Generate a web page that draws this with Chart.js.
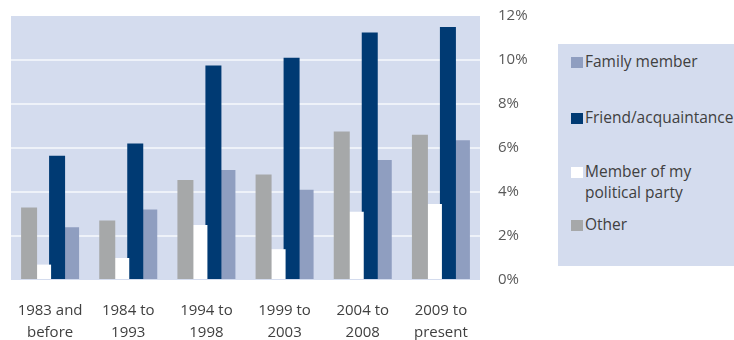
<!DOCTYPE html>
<html>
<head>
<meta charset="utf-8">
<script src="https://cdn.jsdelivr.net/npm/chart.js@4/dist/chart.umd.min.js"></script>
<style>
  html, body { margin: 0; padding: 0; background: #ffffff; overflow: hidden; }
  #wrap { position: relative; width: 734px; height: 340px; overflow: hidden; }
  #c { position: absolute; left: 0; top: 0; }
  #legend { position: absolute; left: 558px; top: 44px; width: 190px; height: 222px; background: #D4DCEE; font-family: "Open Sans", sans-serif; font-size: 15.5px; color: #404040; }
  .item { position: absolute; left: 13px; white-space: nowrap; line-height: 21px; }
  .sw { position: absolute; left: 0; width: 12px; height: 11px; }
  .tx { position: absolute; left: 14px; }
</style>
</head>
<body>
<div id="wrap">
  <canvas id="c" width="734" height="340"></canvas>
  <div id="legend"></div>
</div>
<script>
// Categories (two-line labels)
const categories = [
  ["1983 and", "before"],
  ["1984 to", "1993"],
  ["1994 to", "1998"],
  ["1999 to", "2003"],
  ["2004 to", "2008"],
  ["2009 to", "present"]
];
// Series values (percent)
const familyMember   = [2.4, 3.2, 5.0, 4.1, 5.45, 6.35];
const friendAcq      = [5.65, 6.2, 9.75, 10.1, 11.25, 11.5];
const politicalParty = [0.7, 1.0, 2.5, 1.4, 3.1, 3.45];
const other          = [3.3, 2.7, 4.55, 4.8, 6.75, 6.6];
// Series names (legend order)
const seriesNames = ["Family member", "Friend/acquaintance", "Member of my political party", "Other"];
const legendLines = [["Family member"], ["Friend/acquaintance"], ["Member of my", "political party"], ["Other"]];
// Tick labels
const yTicks = [0, 2, 4, 6, 8, 10, 12];

const colors = {
  "Family member": "#8F9EC0",
  "Friend/acquaintance": "#003A73",
  "Member of my political party": "#FFFFFF",
  "Other": "#A6A8A9"
};

const plotBg = {
  id: 'plotBg',
  beforeDraw(chart) {
    const a = chart.chartArea, ctx = chart.ctx;
    ctx.save();
    ctx.fillStyle = '#D4DCEE';
    ctx.fillRect(a.left, a.top, a.right - a.left, a.bottom - a.top);
    ctx.restore();
  }
};

// Datasets left-to-right within each group: Other, Member, Friend, Family
const ds = [
  { label: seriesNames[3], data: other },
  { label: seriesNames[2], data: politicalParty },
  { label: seriesNames[1], data: friendAcq },
  { label: seriesNames[0], data: familyMember }
].map(d => Object.assign(d, {
  backgroundColor: colors[d.label],
  borderWidth: 0,
  categoryPercentage: 0.7164,
  barPercentage: 1.1429
}));

new Chart(document.getElementById('c'), {
  type: 'bar',
  data: { labels: categories, datasets: ds },
  plugins: [plotBg],
  options: {
    responsive: false,
    devicePixelRatio: 1,
    animation: false,
    layout: { padding: { left: 11, top: 16, right: 0, bottom: 0 } },
    plugins: { legend: { display: false }, tooltip: { enabled: false } },
    scales: {
      x: {
        grid: { display: false, drawTicks: false },
        border: { display: false },
        ticks: {
          color: '#404040',
          font: { family: 'Open Sans', size: 15, lineHeight: 22 / 15 },
          padding: 20,
          maxRotation: 0,
          autoSkip: false
        },
        afterFit(s) { s.height = 60; s.paddingLeft = 0; s.paddingRight = 0; }
      },
      y: {
        position: 'right',
        min: yTicks[0],
        max: yTicks[yTicks.length - 1],
        afterBuildTicks(s) { s.ticks = yTicks.map(v => ({ value: v })); },
        grid: {
          drawTicks: false,
          lineWidth: 2,
          color: ctx => (ctx.tick && (ctx.tick.value === 0 || ctx.tick.value === 12)) ? 'rgba(0,0,0,0)' : '#EEF2F9'
        },
        border: { display: false },
        ticks: {
          color: '#595959',
          font: { family: 'Open Sans', size: 15 },
          padding: 18,
          callback: v => v + '%'
        },
        afterFit(s) { s.width = 254; s.paddingTop = 0; s.paddingBottom = 0; }
      }
    }
  }
});

// HTML legend
const legend = document.getElementById('legend');
const itemTops = [7, 63, 117, 170];
seriesNames.forEach((name, i) => {
  const it = document.createElement('div');
  it.className = 'item';
  it.style.top = itemTops[i] + 'px';
  const sw = document.createElement('div');
  sw.className = 'sw';
  sw.style.top = '6px';
  sw.style.background = colors[name];
  const tx = document.createElement('div');
  tx.className = 'tx';
  tx.innerHTML = legendLines[i].join('<br>');
  it.appendChild(sw);
  it.appendChild(tx);
  legend.appendChild(it);
});
</script>
</body>
</html>
